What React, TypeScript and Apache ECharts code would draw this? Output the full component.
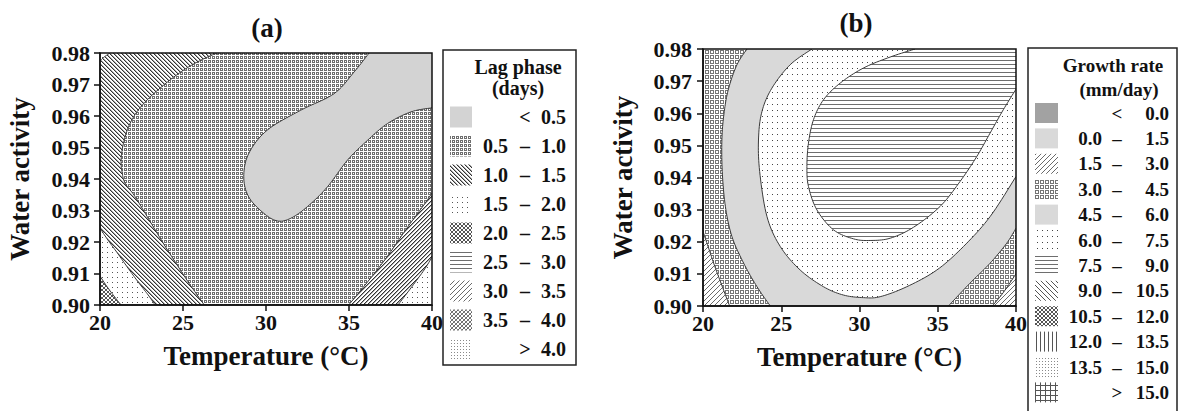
import React, { useEffect, useRef } from "react";
import * as echarts from "echarts";

type Pt = [number, number];

// ---- axes ----
const tempRange: Pt = [20, 40];
const tempStep = 5;
const awRange: Pt = [0.9, 0.98];
const awStep = 0.01;

// ---- (a) Lag phase (days): contour boundaries [temperature °C, water activity] ----
const lagEdge05: Pt[] = [
  [36.21, 0.98], [35.31, 0.974], [34.1, 0.9671], [32.08, 0.9618], [30.07, 0.9555], [28.96, 0.9481],
  [28.66, 0.9407], [28.96, 0.9343], [29.87, 0.9291], [30.68, 0.9267], [31.48, 0.9275], [32.49, 0.9312],
  [33.7, 0.9375], [34.91, 0.946], [36.12, 0.9523], [37.32, 0.9576], [38.73, 0.9613], [40, 0.9626],
];
const lagEdge10: Pt[] = [
  [27.07, 0.98], [26.34, 0.9784], [25.44, 0.9759], [24.53, 0.9727], [23.63, 0.9689], [22.84, 0.9651],
  [22.18, 0.961], [21.69, 0.9562], [21.39, 0.9508], [21.27, 0.946], [21.33, 0.9422], [21.51, 0.9387],
  [22.05, 0.9349], [22.6, 0.9302], [23.26, 0.9244], [23.99, 0.9181], [24.77, 0.9117], [25.44, 0.9063],
  [26.28, 0.9],
];
const lagEdge15: Pt[] = [
  [20, 0.9244], [20.48, 0.9206], [21.09, 0.9162], [21.69, 0.9117], [22.3, 0.9073], [22.9, 0.9032], [23.32, 0.9],
];
const lagEdge20: Pt[] = [[20, 0.9092], [20.36, 0.9063], [20.79, 0.9032], [21.27, 0.9]];
const lagCorner15: Pt[] = [[20, 0.9775], [20.24, 0.9787], [20.6, 0.98]];
const lagEdge10R: Pt[] = [[34.98, 0.9], [36.07, 0.907], [37.28, 0.9152], [38.49, 0.9244], [39.46, 0.9314], [40, 0.9355]];
const lagEdge15R: Pt[] = [[37.95, 0.9], [38.73, 0.9054], [39.52, 0.9111], [40, 0.9152]];

// ---- (b) Growth rate (mm/day): contour boundaries ----
const grEdge30L: Pt[] = [[20, 0.9232], [20.36, 0.918], [20.72, 0.9128], [21.15, 0.9071], [21.7, 0.9]];
const grEdge45L: Pt[] = [
  [22.81, 0.98], [22.17, 0.9751], [21.64, 0.9678], [21.36, 0.9606], [21.21, 0.9523], [21.23, 0.9419],
  [21.43, 0.931], [21.85, 0.9216], [22.6, 0.9133], [23.45, 0.906], [24.3, 0.9],
];
const grEdge45R: Pt[] = [[35.68, 0.9], [37.06, 0.9071], [38.34, 0.9133], [39.4, 0.9195], [40, 0.9242]];
const grEdge30R: Pt[] = [[38.49, 0.9], [39.19, 0.9042], [40, 0.91]];
const grEdge60: Pt[] = [
  [26.96, 0.98], [25.57, 0.9751], [24.4, 0.9678], [23.77, 0.9606], [23.55, 0.9523], [23.62, 0.9419],
  [24.09, 0.9278], [24.94, 0.9185], [26.21, 0.9112], [27.7, 0.906], [28.98, 0.9034], [30.26, 0.9026],
  [31.32, 0.9029], [33.02, 0.906], [34.94, 0.9112], [36.64, 0.9185], [38.34, 0.9278], [40, 0.9403],
];
const grEdge75: Pt[] = [
  [33.55, 0.98], [31.96, 0.9775], [30.26, 0.9741], [28.77, 0.9694], [27.7, 0.9642], [27.06, 0.958],
  [26.74, 0.9507], [26.64, 0.9434], [26.74, 0.9372], [27.28, 0.9299], [28.34, 0.9237], [29.62, 0.9209],
  [30.68, 0.9204], [31.96, 0.9211], [33.45, 0.9245], [35.15, 0.931], [36.43, 0.9388], [37.49, 0.9465],
  [38.34, 0.9538], [39.19, 0.9611], [40, 0.9675],
];

// ---- legends ----
const lagLo = ["", "0.5", "1.0", "1.5", "2.0", "2.5", "3.0", "3.5", ""];
const lagOp = ["<", "–", "–", "–", "–", "–", "–", "–", ">"];
const lagHi = ["0.5", "1.0", "1.5", "2.0", "2.5", "3.0", "3.5", "4.0", "4.0"];
const lagFill = ["grayA", "squaresA", "diagBack", "dotsA", "cross", "hlines", "diagFwdLight", "cross2", "denseDots"];

const grLo = ["", "0.0", "1.5", "3.0", "4.5", "6.0", "7.5", "9.0", "10.5", "12.0", "13.5", ""];
const grOp = ["<", "–", "–", "–", "–", "–", "–", "–", "–", "–", "–", ">"];
const grHi = ["0.0", "1.5", "3.0", "4.5", "6.0", "7.5", "9.0", "10.5", "12.0", "13.5", "15.0", "15.0"];
const grFill = ["grayDark", "grayB", "diagFwdLight", "squaresB", "grayB", "dotsB", "hlines", "diagBackLight", "cross", "vlines", "denseDots", "hash"];

const FONT = "'Liberation Serif', 'Times New Roman', serif";

function makePattern(w: number, h: number, cells: [number, number, string][]) {
  const c = document.createElement("canvas");
  c.width = w;
  c.height = h;
  const ctx = c.getContext("2d")!;
  ctx.fillStyle = "#ffffff";
  ctx.fillRect(0, 0, w, h);
  for (const [x, y, col] of cells) {
    ctx.fillStyle = col;
    ctx.fillRect(x, y, 1, 1);
  }
  return { image: c, repeat: "repeat", imageWidth: w, imageHeight: h };
}

function buildFills(): Record<string, any> {
  const f: Record<string, any> = {};
  const rng = (n: number) => Array.from({ length: n }, (_, i) => i);
  f.grayA = "#d3d3d3";
  f.grayB = "#d9d9d9";
  f.grayDark = "#a2a2a2";
  f.squaresA = makePattern(4, 4, ([[0, 0], [1, 0], [2, 0], [0, 1], [2, 1], [0, 2], [1, 2], [2, 2]] as Pt[]).map(([x, y]) => [x, y, "#6e6e6e"] as [number, number, string]));
  const sqB: [number, number, string][] = [];
  rng(4).forEach((x) => rng(4).forEach((y) => { if (x === 0 || x === 3 || y === 0 || y === 3) sqB.push([x, y, "#747474"]); }));
  f.squaresB = makePattern(5, 5, sqB);
  f.diagBack = makePattern(4, 4, rng(4).flatMap((i) => [[i, i, "#333"], [(i + 1) % 4, i, "#a8a8a8"]] as [number, number, string][]));
  f.diagFwd = makePattern(4, 4, rng(4).flatMap((i) => [[3 - i, i, "#333"], [(4 - i) % 4, i, "#a8a8a8"]] as [number, number, string][]));
  f.diagFwdLight = makePattern(5, 5, rng(5).map((i) => [4 - i, i, "#6a6a6a"] as [number, number, string]));
  f.diagBackLight = makePattern(5, 5, rng(5).map((i) => [i, i, "#555"] as [number, number, string]));
  f.dotsA = makePattern(5, 5, [[2, 2, "#555"]]);
  f.dotsB = makePattern(5, 6, [[2, 2, "#444"]]);
  f.hlines = makePattern(4, 4, rng(4).map((x) => [x, 0, "#6e6e6e"] as [number, number, string]));
  f.vlines = makePattern(4, 4, rng(4).map((y) => [0, y, "#555"] as [number, number, string]));
  f.cross = makePattern(4, 4, rng(4).flatMap((i) => [[i, i, "#555"], [3 - i, i, "#555"]] as [number, number, string][]));
  f.cross2 = makePattern(4, 4, rng(4).flatMap((i) => [[i, i, "#888"], [3 - i, i, "#666"]] as [number, number, string][]));
  f.denseDots = makePattern(3, 3, [[1, 1, "#8a8a8a"]]);
  const hash: [number, number, string][] = [];
  rng(5).forEach((i) => { hash.push([i, 0, "#555"]); if (i > 0) hash.push([0, i, "#555"]); });
  f.hash = makePattern(5, 5, hash);
  return f;
}

function spline(p: number[][]): number[][] {
  if (p.length < 3) return p;
  const out: number[][] = [];
  const n = 10;
  for (let i = 0; i < p.length - 1; i++) {
    const p0 = p[i - 1] || p[i], p1 = p[i], p2 = p[i + 1], p3 = p[i + 2] || p[i + 1];
    for (let k = 0; k < n; k++) {
      const t = k / n, t2 = t * t, t3 = t2 * t;
      const c = (a: number, b: number, cc: number, d: number) =>
        0.5 * (2 * b + (-a + cc) * t + (2 * a - 5 * b + 4 * cc - d) * t2 + (-a + 3 * b - 3 * cc + d) * t3);
      out.push([c(p0[0], p1[0], p2[0], p3[0]), c(p0[1], p1[1], p2[1], p3[1])]);
    }
  }
  out.push(p[p.length - 1]);
  return out;
}

type Region = { curves: Pt[][]; corners: Pt[]; fill: string };

const regionsA: Region[] = [
  { curves: [], corners: [[20, 0.9], [40, 0.9], [40, 0.98], [20, 0.98]], fill: "squaresA" },
  { curves: [lagEdge10], corners: [[20, 0.9], [20, 0.98]], fill: "diagBack" },
  { curves: [lagEdge15], corners: [[20, 0.9]], fill: "dotsA" },
  { curves: [lagEdge20], corners: [[20, 0.9]], fill: "cross" },
  { curves: [lagCorner15], corners: [[20, 0.98]], fill: "dotsA" },
  { curves: [lagEdge05], corners: [[40, 0.98]], fill: "grayA" },
  { curves: [lagEdge10R], corners: [[40, 0.9]], fill: "diagFwd" },
  { curves: [lagEdge15R], corners: [[40, 0.9]], fill: "dotsA" },
];
const regionsB: Region[] = [
  { curves: [], corners: [[20, 0.9], [40, 0.9], [40, 0.98], [20, 0.98]], fill: "squaresB" },
  { curves: [grEdge45L, grEdge45R], corners: [[40, 0.98]], fill: "grayB" },
  { curves: [grEdge60], corners: [[40, 0.98]], fill: "dotsB" },
  { curves: [grEdge75], corners: [[40, 0.98]], fill: "hlines" },
  { curves: [grEdge30L], corners: [[20, 0.9]], fill: "diagFwdLight" },
  { curves: [grEdge30R], corners: [[40, 0.9]], fill: "diagFwdLight" },
];

function regionSeries(regions: Region[], axisIdx: number, fills: Record<string, any>) {
  return regions.map((r) => {
    const data = r.curves.length ? r.curves.flat() : r.corners;
    return {
      type: "custom",
      xAxisIndex: axisIdx,
      yAxisIndex: axisIdx,
      clip: true,
      silent: true,
      data,
      renderItem: (params: any, api: any) => {
        if (params.dataIndex !== 0) return null;
        const smoothed = r.curves.map((c) => spline(c.map((p) => api.coord(p))));
        const poly = [...smoothed.flat(), ...r.corners.map((p) => api.coord(p))];
        const children: any[] = [
          { type: "polygon", shape: { points: poly }, style: { fill: fills[r.fill], stroke: null } },
        ];
        smoothed.forEach((s) =>
          children.push({ type: "polyline", shape: { points: s }, style: { stroke: "#3a3a3a", lineWidth: 1, fill: null } })
        );
        return { type: "group", children };
      },
    };
  });
}

function axisPair(idx: number, yGap: number, yMargin: number) {
  const common = {
    gridIndex: idx,
    type: "value",
    z: 10,
    axisLine: { show: true, lineStyle: { color: "#111", width: 1.5 } },
    axisTick: { show: true, length: 6, lineStyle: { color: "#111", width: 1.5 } },
    splitLine: { show: false },
    nameLocation: "middle",
    nameTextStyle: { fontFamily: FONT, fontSize: 27, fontWeight: "bold", color: "#111" },
  };
  return {
    x: {
      ...common,
      min: tempRange[0],
      max: tempRange[1],
      interval: tempStep,
      name: "Temperature (°C)",
      nameGap: 37,
      axisLabel: { fontFamily: FONT, fontSize: 22, fontWeight: "bold", color: "#111", margin: 6 },
    },
    y: {
      ...common,
      min: awRange[0],
      max: awRange[1],
      interval: awStep,
      name: "Water activity",
      nameGap: yGap,
      axisLabel: {
        fontFamily: FONT, fontSize: 22, fontWeight: "bold", color: "#111", margin: yMargin,
        formatter: (v: number) => v.toFixed(2),
      },
    },
  };
}

function legendGraphics(
  fills: Record<string, any>, lo: string[], op: string[], hi: string[], fk: string[],
  cfg: { y0: number; dy: number; sx: number; sw: number; sh: number; xLo: number; xOp: number; xHi: number; fs: number }
) {
  const els: any[] = [];
  lo.forEach((_, i) => {
    const y = cfg.y0 + cfg.dy * i;
    els.push({ type: "rect", shape: { x: cfg.sx, y: y - cfg.sh / 2, width: cfg.sw, height: cfg.sh }, style: { fill: fills[fk[i]] } });
    const ts = { fontFamily: FONT, fontSize: cfg.fs, fontWeight: "bold", fill: "#111", verticalAlign: "middle" };
    if (lo[i]) els.push({ type: "text", x: cfg.xLo, y, style: { ...ts, text: lo[i], align: "right" } });
    els.push({ type: "text", x: cfg.xOp, y, style: { ...ts, text: op[i], align: "center" } });
    els.push({ type: "text", x: cfg.xHi, y, style: { ...ts, text: hi[i], align: "right" } });
  });
  return els;
}

export default function App() {
  const ref = useRef<HTMLDivElement>(null);
  useEffect(() => {
    if (!ref.current) return;
    const fills = buildFills();
    const chart = echarts.init(ref.current, undefined, { renderer: "svg" });
    const A = axisPair(0, 67, 10);
    const B = axisPair(1, 67, 11);
    const tStyle = (fs: number) => ({ fontFamily: FONT, fontSize: fs, fontWeight: "bold", fill: "#111", align: "center", verticalAlign: "middle" });
    chart.setOption({
      animation: false,
      backgroundColor: "#ffffff",
      grid: [
        { left: 100, top: 53, width: 332, height: 252, show: true, borderColor: "#111", borderWidth: 1.5, backgroundColor: "transparent", z: 10 },
        { left: 703, top: 49, width: 313, height: 257, show: true, borderColor: "#111", borderWidth: 1.5, backgroundColor: "transparent", z: 10 },
      ],
      xAxis: [A.x, B.x],
      yAxis: [A.y, B.y],
      series: [...regionSeries(regionsA, 0, fills), ...regionSeries(regionsB, 1, fills)],
      graphic: [
        { type: "text", x: 267, y: 28, style: { ...tStyle(27), text: "(a)" } },
        { type: "text", x: 856, y: 23, style: { ...tStyle(27), text: "(b)" } },
        { type: "rect", shape: { x: 443, y: 50, width: 133, height: 315 }, style: { fill: "#fff", stroke: "#222", lineWidth: 1.5 } },
        { type: "text", x: 518, y: 67, style: { ...tStyle(20), text: "Lag phase" } },
        { type: "text", x: 518, y: 88, style: { ...tStyle(20), text: "(days)" } },
        ...legendGraphics(fills, lagLo, lagOp, lagHi, lagFill, { y0: 117, dy: 29, sx: 450, sw: 22, sh: 21, xLo: 508, xOp: 525, xHi: 566, fs: 20 }),
        { type: "rect", shape: { x: 1028, y: 48, width: 149, height: 380 }, style: { fill: "#fff", stroke: "#222", lineWidth: 1.5 } },
        { type: "text", x: 1113, y: 65, style: { ...tStyle(19), text: "Growth rate" } },
        { type: "text", x: 1119, y: 89, style: { ...tStyle(19), text: "(mm/day)" } },
        ...legendGraphics(fills, grLo, grOp, grHi, grFill, { y0: 113, dy: 25.4, sx: 1035, sw: 23, sh: 20, xLo: 1102, xOp: 1117, xHi: 1169, fs: 19 }),
      ],
    });
    return () => chart.dispose();
  }, []);
  return <div ref={ref} style={{ position: "fixed", left: 0, top: 0, width: 1179, height: 411, background: "#fff" }} />;
}
